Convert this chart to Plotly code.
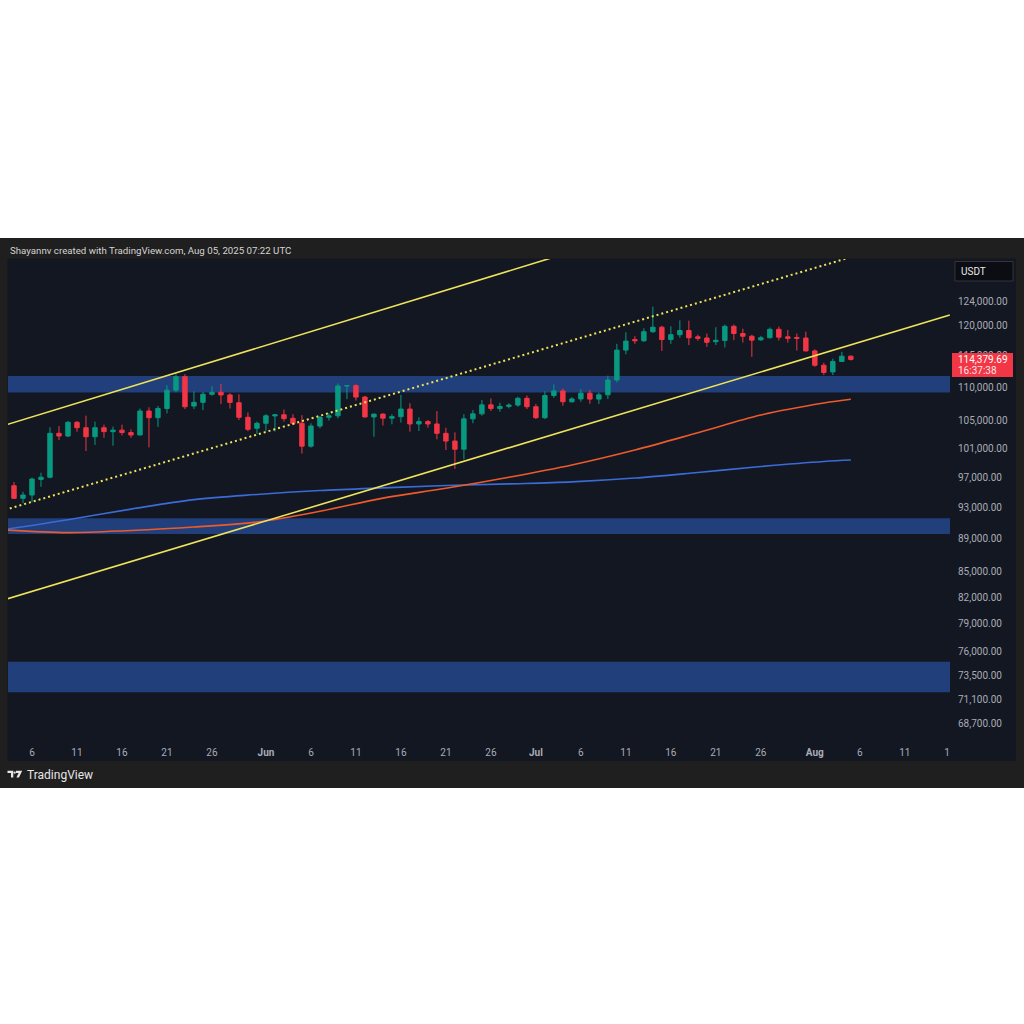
import math
import pandas as pd
import plotly.graph_objects as go

# ---------------- data ----------------
dates = pd.date_range("2025-05-03", "2025-08-05", freq="D")

opens = [96750, 95850, 94170, 94610, 96700, 96990, 103140, 102750, 104740, 103950,
         102650, 103950, 103380, 103600, 103250, 102900, 106410, 105420, 106780, 109560,
         111650, 107150, 107710, 108930, 109240, 108830, 107650, 105480, 103870,
         104600, 105680, 105850, 105330, 104600, 101300, 104200, 105480, 105700, 110200,
         110270, 108510, 105530, 105950, 105350, 105570, 106700, 104500, 104850, 104500,
         103140, 102030, 100870, 105250, 105990, 107330, 106780, 107100, 107300, 108320,
         107050, 105420, 108750, 109450, 107800, 108230, 109100, 108200, 108850, 111130,
         115880, 117600, 117400, 118900, 119650, 117600, 118400, 119100, 118050, 117850,
         117250, 117450, 119800, 118600, 118150, 117550, 117900, 119300, 118050, 117950,
         117850,
         115750, 113450, 112400, 114050, 114900]
highs = [96950, 96340, 95050, 96930, 97610, 104020, 104200, 104930, 104930, 105720,
         104840, 104400, 104120, 104400, 103700, 106780, 106970, 107170, 110330, 112030,
         112030, 109380, 109300, 110150, 110530, 109080, 108930, 106200, 104840,
         105940, 105950, 106630, 105940, 105800, 104600, 105670, 106080, 110600, 110300,
         110450, 108700, 106030, 106080, 105940, 108850, 107580, 105480, 105080, 106400,
         103950, 103280, 105940, 106560, 108060, 108300, 107650, 107550, 108560, 108750,
         107450, 109400, 110450, 109800, 108500, 109730, 109600, 109200, 111800, 116900,
         118800, 118150, 119470, 123130, 119900, 119800, 120800, 120750, 118400, 118600,
         119650, 120100, 120100, 119400, 118400, 118200, 119600, 119750, 119200, 118600,
         118900,
         116000, 113850, 114500, 115600, 115000]
lows = [95650, 94080, 93520, 93650, 95710, 96840, 102180, 102600, 103370, 100620,
        101470, 102500, 101370, 102850, 102500, 102850, 101140, 104070, 106060, 109240,
        106700, 106700, 106550, 108720, 107440, 106780, 105080, 103440, 103050,
        103510, 103400, 104840, 104330, 100250, 101100, 103870, 105000, 105330, 108200,
        107990, 105420, 102650, 104280, 104450, 104700, 103380, 103470, 103950, 102280,
        100760, 98150, 99450, 104600, 105720, 106410, 106300, 106800, 107050, 106700,
        105230, 105230, 108400, 107200, 107650, 107800, 107500, 107450, 108200, 110750,
        115200, 116900, 117200, 118700, 115750, 116900, 117900, 116700, 117400, 116400,
        116700, 116300, 117500, 117100, 114800, 117400, 117800, 117450, 117100, 115800,
        115650,
        113200, 111900, 111900, 114000, 114200]
closes = [95850, 94170, 94610, 96750, 96990, 103140, 102750, 104740, 103950, 102650,
          103950, 103380, 103600, 103250, 102900, 106410, 105420, 106780, 109560, 111650,
          107050, 107710, 108930, 109240, 108830, 107700, 105480, 103720, 104600,
          105700, 105850, 105280, 104600, 101300, 104200, 105480, 105700, 110200, 110270,
          108510, 105530, 105950, 105350, 105570, 106700, 104500, 104850, 104500, 103140,
          102030, 100870, 105250, 105990, 107330, 106780, 107100, 107300, 108320, 107050,
          105420, 108750, 109450, 107800, 108230, 109100, 108200, 108850, 111130, 115880,
          117350, 117400, 118900, 119650, 117600, 118400, 119100, 117900, 117800, 117150,
          117480, 119800, 118600, 118150, 117500, 117900, 119300, 118000, 117800, 117800,
          115750,
          113450, 112300, 114050, 114900, 114379.69]

# moving averages (sampled weekly along the lines)
ma_dates = ["2025-05-03", "2025-05-10", "2025-05-17", "2025-05-24", "2025-05-31",
            "2025-06-07", "2025-06-14", "2025-06-21", "2025-06-28", "2025-07-05",
            "2025-07-12", "2025-07-19", "2025-07-26", "2025-08-02", "2025-08-05"]
ma_blue = [90150, 91390, 92760, 94000, 94680, 95200, 95560, 95870, 96090, 96360,
           96880, 97640, 98460, 99160, 99360]
ma_red = [90090, 89760, 90030, 90470, 91100, 92480, 94200, 95500, 96990, 98670,
          100760, 103220, 105810, 107600, 108170]

# trend lines (two anchor points each)
line_dates = ["2025-05-03", "2025-08-16"]
upper_line = [104320, 156360]
dotted_line = [92660, 137550]
lower_line = [81740, 121710]

# support / resistance zones
zone_low = [109200, 89590, 71790]
zone_high = [111750, 91580, 74930]

price_ticks = [124000, 120000, 115000, 110000, 105000, 101000, 97000, 93000, 89000,
               85000, 82000, 79000, 76000, 73500, 71100, 68700]
date_ticks = ["2025-05-06", "2025-05-11", "2025-05-16", "2025-05-21", "2025-05-26",
              "2025-06-01", "2025-06-06", "2025-06-11", "2025-06-16", "2025-06-21",
              "2025-06-26", "2025-07-01", "2025-07-06", "2025-07-11", "2025-07-16",
              "2025-07-21", "2025-07-26", "2025-08-01", "2025-08-06", "2025-08-11",
              "2025-08-16"]
date_labels = ["6", "11", "16", "21", "26", "<b>Jun</b>", "6", "11", "16", "21", "26",
               "<b>Jul</b>", "6", "11", "16", "21", "26", "<b>Aug</b>", "6", "11", "16"]

last_price = "114,379.69"
countdown = "16:37:38"
header = "Shayannv created with TradingView.com, Aug 05, 2025 07:22 UTC"

# ---------------- layout helpers ----------------
PL, PR, PT, PB = 8, 950, 259, 740
def px(x):
    return (x - PL) / (PR - PL)
def py(y):
    return (PB - y) / (PB - PT)

BG = "#131722"
FRAME = "#1f1f1f"
GREEN = "#089981"
RED = "#f23645"
YELLOW = "#efe35a"
FONT = "Roboto"

fig = go.Figure()

fig.add_trace(go.Scatter(x=ma_dates, y=ma_blue, mode="lines",
                         line=dict(color="#3a6bd6", width=1.6, shape="spline", smoothing=1.0),
                         hoverinfo="skip", showlegend=False))
fig.add_trace(go.Scatter(x=ma_dates, y=ma_red, mode="lines",
                         line=dict(color="#ee5a2c", width=1.6, shape="spline", smoothing=1.0),
                         hoverinfo="skip", showlegend=False))

fig.add_trace(go.Candlestick(
    x=dates, open=opens, high=highs, low=lows, close=closes,
    increasing=dict(line=dict(color=GREEN, width=1), fillcolor=GREEN),
    decreasing=dict(line=dict(color=RED, width=1), fillcolor=RED),
    whiskerwidth=0, showlegend=False))

fig.add_trace(go.Scatter(x=line_dates, y=upper_line, mode="lines",
                         line=dict(color=YELLOW, width=1.6), hoverinfo="skip", showlegend=False))
fig.add_trace(go.Scatter(x=line_dates, y=lower_line, mode="lines",
                         line=dict(color=YELLOW, width=1.6), hoverinfo="skip", showlegend=False))
fig.add_trace(go.Scatter(x=line_dates, y=dotted_line, mode="lines",
                         line=dict(color=YELLOW, width=2, dash="2px,3px"), hoverinfo="skip",
                         showlegend=False))

shapes = []
# outer frame and chart panel
shapes.append(dict(type="rect", xref="paper", yref="paper", x0=px(0), x1=px(1024),
                   y0=py(788), y1=py(238), fillcolor=FRAME, line=dict(width=0), layer="below"))
shapes.append(dict(type="rect", xref="paper", yref="paper", x0=px(7.5), x1=px(1016),
                   y0=py(761), y1=py(258.5), fillcolor=BG, line=dict(width=0), layer="below"))
for lo, hi in zip(zone_low, zone_high):
    shapes.append(dict(type="rect", xref="paper", yref="y", x0=0, x1=1, y0=lo, y1=hi,
                       fillcolor="#213f7a", line=dict(width=0), layer="below"))
# cover for date labels under price scale
shapes.append(dict(type="rect", xref="paper", yref="paper", x0=px(950), x1=px(1016),
                   y0=py(761), y1=py(740), fillcolor=BG, line=dict(width=0), layer="above"))
# last price label
shapes.append(dict(type="rect", xref="paper", yref="paper", x0=px(952), x1=px(1013),
                   y0=py(377), y1=py(353), fillcolor=RED, line=dict(width=0), layer="above"))
# USDT box
shapes.append(dict(type="rect", xref="paper", yref="paper", x0=px(955), x1=px(1013),
                   y0=py(281), y1=py(261.5), fillcolor="#0b0d12",
                   line=dict(width=1, color="#30343e"), layer="above"))

# TradingView logo
def P(x, y):
    return f"{px(x):.5f},{py(y):.5f}"
logo1 = "M " + P(7.5, 770.7) + " L " + P(13.3, 770.7) + " L " + P(13.3, 777.4) + \
        " L " + P(11.0, 777.4) + " L " + P(11.0, 773.0) + " L " + P(7.5, 773.0) + " Z"
logo2 = "M " + P(16.0, 770.7) + " L " + P(22.2, 770.7) + " L " + P(19.0, 777.4) + \
        " L " + P(16.4, 777.4) + " L " + P(18.6, 773.0) + " L " + P(16.0, 773.0) + " Z"
shapes.append(dict(type="path", xref="paper", yref="paper", path=logo1,
                   fillcolor="#e6e6e6", line=dict(width=0), layer="above"))
shapes.append(dict(type="path", xref="paper", yref="paper", path=logo2,
                   fillcolor="#e6e6e6", line=dict(width=0), layer="above"))
shapes.append(dict(type="circle", xref="paper", yref="paper", x0=px(13.6), x1=px(15.8),
                   y0=py(773.8), y1=py(771.6), fillcolor="#e6e6e6", line=dict(width=0),
                   layer="above"))

annotations = [
    dict(x=px(8), y=py(250), xref="paper", yref="paper", text=header, showarrow=False,
         xanchor="left", yanchor="middle", font=dict(family=FONT, size=9.7, color="#d4d4d4")),
    dict(x=px(24.5), y=py(775), xref="paper", yref="paper", text="TradingView", showarrow=False,
         xanchor="left", yanchor="middle", font=dict(family=FONT, size=12, color="#e6e6e6")),
    dict(x=px(956), y=py(359.5), xref="paper", yref="paper", text=last_price, showarrow=False,
         xanchor="left", yanchor="middle", font=dict(family=FONT, size=10, color="#ffffff")),
    dict(x=px(956), y=py(370.5), xref="paper", yref="paper", text=countdown, showarrow=False,
         xanchor="left", yanchor="middle", font=dict(family=FONT, size=10, color="#ffe3e5")),
    dict(x=px(959), y=py(271), xref="paper", yref="paper", text="USDT", showarrow=False,
         xanchor="left", yanchor="middle", font=dict(family=FONT, size=10, color="#e8e8e8")),
]

y_lo, y_hi = 67150, 131635
fig.update_layout(
    width=1024, height=1024, autosize=False,
    margin=dict(l=PL, r=1024 - PR, t=PT, b=1024 - PB, pad=0),
    paper_bgcolor="#ffffff", plot_bgcolor="rgba(0,0,0,0)",
    showlegend=False, shapes=shapes, annotations=annotations,
    font=dict(family=FONT),
    xaxis=dict(type="date", range=["2025-05-03 08:00", "2025-08-16 00:30"],
               rangeslider=dict(visible=False), showgrid=False, zeroline=False, showline=False,
               ticks="outside", ticklen=3, tickcolor="rgba(0,0,0,0)",
               tickmode="array", tickvals=date_ticks, ticktext=date_labels,
               tickfont=dict(family=FONT, size=10, color="#a9acb5"),
               fixedrange=True),
    yaxis=dict(type="log", side="right", range=[math.log10(y_lo), math.log10(y_hi)],
               showgrid=False, zeroline=False, showline=False, ticks="",
               tickmode="array", tickvals=price_ticks,
               ticktext=[f"{v:,.2f}" for v in price_ticks],
               tickfont=dict(family=FONT, size=10, color="#a9acb5"), ticklabelstandoff=7,
               fixedrange=True),
)

fig.write_html("out.html")
